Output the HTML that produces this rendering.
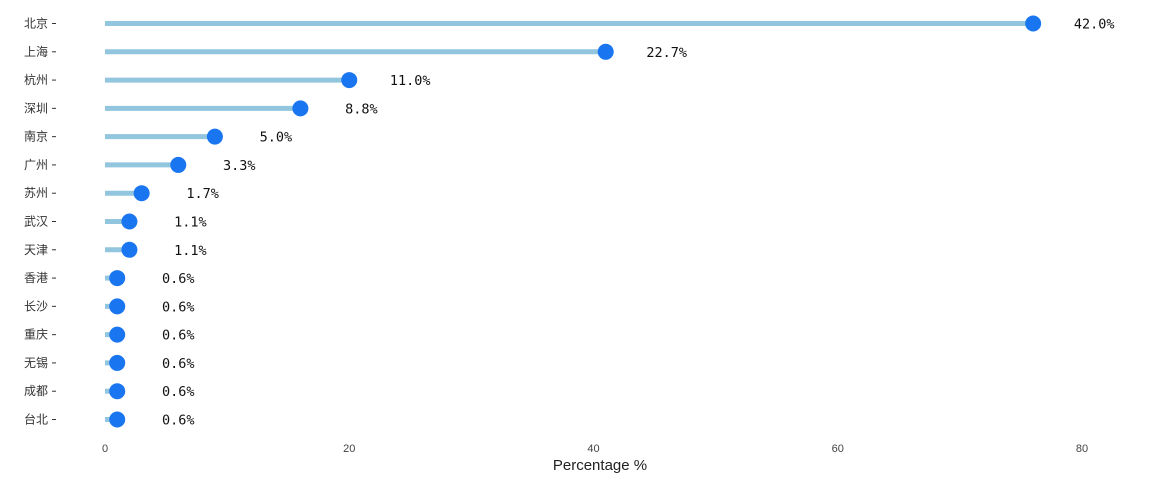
<!DOCTYPE html>
<html><head><meta charset="utf-8">
<style>
html,body{margin:0;padding:0;background:#fff;}
svg{display:block;}
.yl{font-family:"Liberation Sans","Noto Sans CJK SC",sans-serif;font-size:12px;fill:#333;}
.xl{font-family:"Liberation Sans",sans-serif;font-size:11px;fill:#444;}
.vl{font-family:"DejaVu Sans Mono","Liberation Mono",monospace;font-size:13.5px;fill:#111;}
.at{font-family:"Liberation Sans","DejaVu Sans",sans-serif;font-size:15px;fill:#222;}
</style></head>
<body>
<svg id="chart" width="1152" height="480"></svg>
<script>
const cities = ["北京","上海","杭州","深圳","南京","广州","苏州","武汉","天津","香港","长沙","重庆","无锡","成都","台北"];
const counts = [76,41,20,16,9,6,3,2,2,1,1,1,1,1,1];
const pctLabels = ["42.0%","22.7%","11.0%","8.8%","5.0%","3.3%","1.7%","1.1%","1.1%","0.6%","0.6%","0.6%","0.6%","0.6%","0.6%"];
const xTicks = [0,20,40,60,80];

const NS = "http://www.w3.org/2000/svg";
const svg = document.getElementById("chart");
const x0 = 105, x1 = 1082;
const xs = v => x0 + v * (x1 - x0) / 80;
const y0 = 23.5, step = (419.5 - 23.5) / (cities.length - 1);
const ys = i => y0 + i * step;
function mk(tag, attrs, text) {
  const e = document.createElementNS(NS, tag);
  for (const k in attrs) e.setAttribute(k, attrs[k]);
  if (text !== undefined) e.textContent = text;
  svg.appendChild(e);
  return e;
}
xTicks.forEach(t => {
  const el = mk("text", {x: xs(t), y: 452, "text-anchor": "middle", class: "xl"}, String(t));
  
  
});
const title = mk("text", {x: 600, y: 470, "text-anchor": "middle", class: "at"}, "Percentage %");



cities.forEach((c, i) => {
  const y = ys(i);
  const lab = mk("text", {x: 48, y: y + 4, "text-anchor": "end", class: "yl"}, c);
  
  
  const tk = mk("line", {x1: 52, x2: 56, y1: y, y2: y, stroke: "#333", "stroke-width": 1});
  
  
  const stem = mk("line", {x1: xs(0), x2: xs(counts[i]), y1: y, y2: y, stroke: "#92c5de", "stroke-width": 5});
  
  
  const dot = mk("circle", {cx: xs(counts[i]), cy: y, r: 8, fill: "#1a76f0"});
  
  
  const v = mk("text", {x: xs(counts[i]) + 61, y: y + 5, "text-anchor": "middle", class: "vl"}, pctLabels[i]);
  
  
});
</script>
</body></html>
